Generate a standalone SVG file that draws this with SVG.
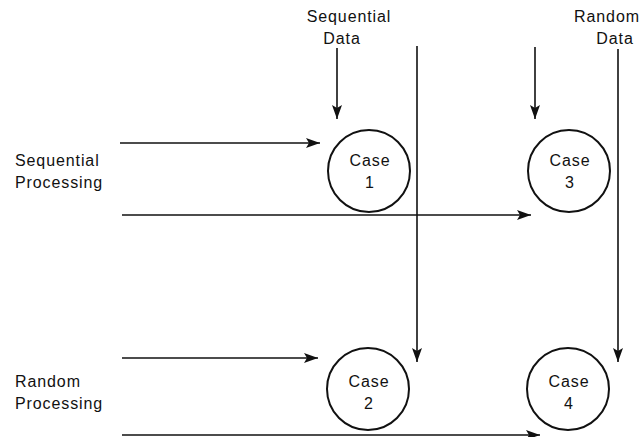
<svg xmlns="http://www.w3.org/2000/svg" width="644" height="437" viewBox="0 0 644 437">
<defs>
<marker id="ah" viewBox="0 0 14 10" refX="14" refY="5" markerWidth="14" markerHeight="10" markerUnits="userSpaceOnUse" orient="auto">
<path d="M0,0 L14,5 L0,10 L3,5 Z" fill="#111"/>
</marker>
</defs>
<style>
.t{font-family:"Liberation Sans",Arial,sans-serif;font-size:16px;fill:#111;letter-spacing:0.9px}
.c{fill:none;stroke:#111;stroke-width:2}
.e{stroke:#111;stroke-width:1.6;fill:none}
.a{marker-end:url(#ah)}
</style>
<rect width="644" height="437" fill="#fff"/>
<g id="labels">
<text class="t" x="349" y="22" text-anchor="middle">Sequential</text>
<text class="t" x="342" y="44" text-anchor="middle">Data</text>
<text class="t" x="607" y="22" text-anchor="middle">Random</text>
<text class="t" x="615" y="44" text-anchor="middle">Data</text>
<text class="t" x="15" y="166">Sequential</text>
<text class="t" x="15" y="188">Processing</text>
<text class="t" x="15" y="387">Random</text>
<text class="t" x="15" y="409">Processing</text>
</g>
<g id="connectors">
<line class="e a" x1="337" y1="48" x2="337" y2="119"/>
<line class="e a" x1="417" y1="46" x2="417" y2="362"/>
<line class="e a" x1="535" y1="47" x2="535" y2="119"/>
<line class="e a" x1="618" y1="49" x2="618" y2="362"/>
<line class="e a" x1="120" y1="143" x2="320" y2="143"/>
<line class="e a" x1="122" y1="215" x2="531" y2="215"/>
<line class="e a" x1="122" y1="358" x2="318" y2="358"/>
<line class="e a" x1="122" y1="435" x2="540" y2="435"/>
</g>
<g id="case1">
<circle class="c" cx="369" cy="171" r="41"/>
<text class="t" x="370" y="166" text-anchor="middle">Case</text>
<text class="t" x="370" y="188" text-anchor="middle">1</text>
</g>
<g id="case3">
<circle class="c" cx="569" cy="171" r="41"/>
<text class="t" x="570" y="166" text-anchor="middle">Case</text>
<text class="t" x="570" y="188" text-anchor="middle">3</text>
</g>
<g id="case2">
<circle class="c" cx="368" cy="389" r="41"/>
<text class="t" x="369" y="387" text-anchor="middle">Case</text>
<text class="t" x="369" y="409" text-anchor="middle">2</text>
</g>
<g id="case4">
<circle class="c" cx="568" cy="389" r="41"/>
<text class="t" x="569" y="387" text-anchor="middle">Case</text>
<text class="t" x="569" y="409" text-anchor="middle">4</text>
</g>
</svg>
